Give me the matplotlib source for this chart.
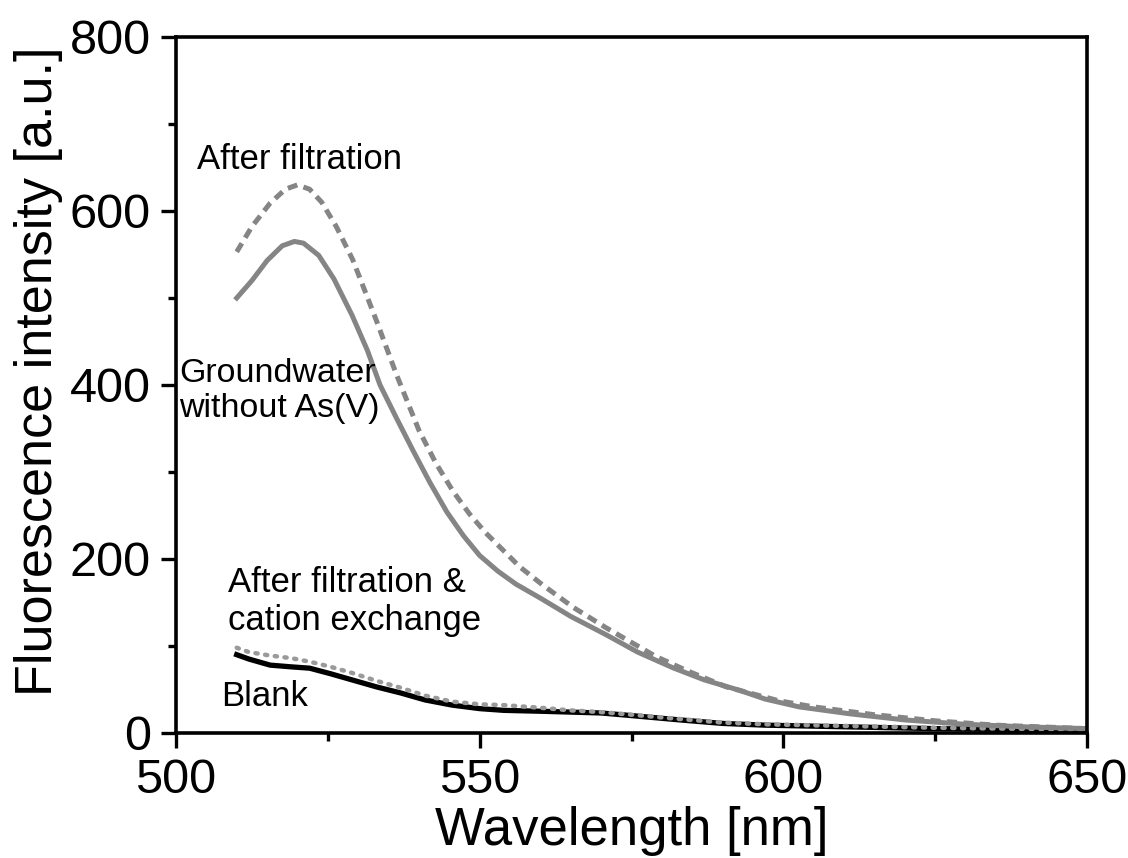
import matplotlib.pyplot as plt
from matplotlib.ticker import MultipleLocator

plt.rcParams['font.family'] = ['Liberation Sans', 'DejaVu Sans']

# Groundwater without As(V)
wl_gw = [510, 512.5, 515, 517.5, 519.5, 521, 523.5, 526, 529, 531.5, 533.6, 536.3,
         539, 541.8, 544.6, 547.3, 550, 553, 556, 560, 565, 570.8, 576, 581.8,
         587, 592.8, 597, 602.6, 611, 620, 630, 640, 650]
int_gw = [500, 520, 543, 560, 565, 563, 549, 522, 480, 440, 400, 362,
          325, 288, 254, 227, 204, 186, 171, 155, 134, 113, 93, 75,
          61, 49, 39, 30, 22, 15, 10, 7, 5]

# After filtration
wl_filt = [510, 512.5, 515.5, 518, 520, 522, 524, 526.4, 529.1, 531, 533, 536.3,
           540, 542.8, 545.6, 548.3, 551, 556.6, 560.4, 565.5, 570.8, 579, 584,
           590.6, 599.3, 605, 615, 625, 635, 650]
int_filt = [553, 582, 609, 625, 630, 625, 610, 582, 544, 510, 474, 412,
            348, 310, 278, 252, 230, 191, 170, 144, 121, 88, 72,
            53, 37, 30, 21, 14, 9, 5]

# Blank
wl_blank = [510, 512, 515.5, 519, 522, 525.5, 529, 533, 537, 541, 545.5, 550, 554,
            560, 565, 570, 575, 583, 590, 597, 611, 625, 650]
int_blank = [90, 85, 78, 76, 74.5, 68, 61, 53, 46, 38, 32, 28, 26,
             25, 24, 23, 20, 15, 11, 9, 7, 5, 3]

# After filtration & cation exchange
wl_cat = [510, 512, 515.5, 519, 522, 525.5, 529, 533, 537, 541, 545.5, 550, 554,
          560, 565, 570, 575, 583, 590, 597, 611, 625, 650]
int_cat = [98, 93, 89, 86, 82, 76, 69, 60, 52, 43, 36, 33, 32,
           29, 26, 24, 21, 16, 12, 10, 8, 6, 4]

fig = plt.figure(figsize=(11.28, 8.58), dpi=100)
ax = fig.add_axes([0.156, 0.1457, 0.8077, 0.8112])

ax.plot(wl_blank, int_blank, color='black', lw=3.8, solid_joinstyle='round')
ax.plot(wl_cat, int_cat, color='#9a9a9a', lw=3.2, ls=(0, (0.5, 1.7)),
        dash_capstyle='round')
ax.plot(wl_gw, int_gw, color='#858585', lw=3.6, solid_joinstyle='round')
ax.plot(wl_filt, int_filt, color='#858585', lw=3.6, ls=(0, (2.0, 1.3)))

ax.text(503.5, 659, "After filtration", fontsize=25, va='center', ha='left')
ax.text(500.5, 393, "Groundwater\nwithout As(V)", fontsize=24.5, va='center',
        ha='left', linespacing=1.2)
ax.text(508.6, 151, "After filtration &\ncation exchange", fontsize=25,
        va='center', ha='left', linespacing=1.2)
ax.text(507.4, 42, "Blank", fontsize=25, va='center', ha='left')

ax.set_xlim(500, 650)
ax.set_ylim(0, 800)
ax.xaxis.set_major_locator(MultipleLocator(50))
ax.xaxis.set_minor_locator(MultipleLocator(25))
ax.yaxis.set_major_locator(MultipleLocator(200))
ax.yaxis.set_minor_locator(MultipleLocator(100))
ax.tick_params(which='both', direction='out', width=2.4, top=False, right=False)
ax.tick_params(which='major', length=11, labelsize=35, pad=7)
ax.tick_params(which='minor', length=5.5)
for s in ax.spines.values():
    s.set_linewidth(2.6)

ax.set_xlabel("Wavelength [nm]", fontsize=38, labelpad=2)
ax.set_ylabel("Fluorescence intensity [a.u.]", fontsize=37.5)
ax.yaxis.set_label_coords(-0.124, 0.52)

fig.savefig("out.png", dpi=100)
